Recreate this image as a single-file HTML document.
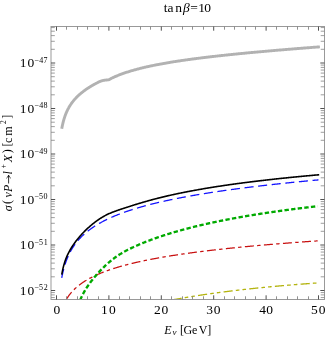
<!DOCTYPE html>
<html><head><meta charset="utf-8"><title>plot</title>
<style>html,body{margin:0;padding:0;background:#fff;}body{width:327px;height:337px;overflow:hidden;font-family:"Liberation Serif",serif;}</style>
</head><body>
<svg width="327" height="337" viewBox="0 0 327 337" style="display:block">
<rect width="327" height="337" fill="#fff"/>
<defs><clipPath id="c"><rect x="51.0" y="26.5" width="273.5" height="273.0"/></clipPath></defs>
<g clip-path="url(#c)" fill="none">
<path d="M61.74,128.74 L61.93,127.74 L62.11,126.80 L62.30,125.89 L62.49,125.03 L62.68,124.20 L62.86,123.40 L63.05,122.63 L63.24,121.90 L63.43,121.19 L63.61,120.50 L63.80,119.84 L63.99,119.20 L64.17,118.59 L64.36,117.99 L64.55,117.41 L64.74,116.85 L64.92,116.30 L65.11,115.77 L65.30,115.26 L65.48,114.76 L65.67,114.27 L65.86,113.79 L66.05,113.33 L66.23,112.88 L66.42,112.44 L66.61,112.01 L66.80,111.59 L66.98,111.18 L67.17,110.77 L67.36,110.38 L67.54,110.00 L67.73,109.62 L67.92,109.25 L68.11,108.89 L68.29,108.53 L68.48,108.19 L68.67,107.85 L68.85,107.51 L69.04,107.18 L69.23,106.86 L69.42,106.54 L69.60,106.23 L69.79,105.93 L69.98,105.62 L70.17,105.33 L70.35,105.04 L70.54,104.75 L70.73,104.47 L70.91,104.19 L71.10,103.92 L71.29,103.65 L71.48,103.38 L71.66,103.12 L71.85,102.86 L72.04,102.61 L72.23,102.35 L72.41,102.11 L72.60,101.86 L72.79,101.62 L72.97,101.38 L73.16,101.15 L73.35,100.91 L73.54,100.69 L73.72,100.46 L73.91,100.24 L74.10,100.01 L74.28,99.80 L74.47,99.58 L74.66,99.37 L74.85,99.16 L75.03,98.95 L75.22,98.74 L75.41,98.54 L75.60,98.33 L75.78,98.13 L75.97,97.94 L76.16,97.74 L76.34,97.55 L76.53,97.35 L76.72,97.16 L76.91,96.98 L77.09,96.79 L77.28,96.60 L77.47,96.42 L77.66,96.24 L77.84,96.06 L78.03,95.88 L78.22,95.71 L78.40,95.53 L78.59,95.36 L78.78,95.19 L78.97,95.02 L79.15,94.85 L79.34,94.68 L79.53,94.52 L79.71,94.35 L79.90,94.19 L80.09,94.03 L80.28,93.87 L80.46,93.71 L80.65,93.55 L80.84,93.39 L81.03,93.24 L81.21,93.08 L81.40,92.93 L81.59,92.78 L81.77,92.62 L81.96,92.47 L82.15,92.33 L82.34,92.18 L82.52,92.03 L82.71,91.89 L82.90,91.74 L83.08,91.60 L83.27,91.45 L83.46,91.31 L83.65,91.17 L83.83,91.03 L84.02,90.89 L84.21,90.75 L84.40,90.62 L84.58,90.48 L84.77,90.35 L84.96,90.21 L85.14,90.08 L85.33,89.94 L85.52,89.81 L85.71,89.68 L85.89,89.55 L86.08,89.42 L86.27,89.29 L86.46,89.16 L86.64,89.03 L86.83,88.91 L87.02,88.78 L87.20,88.66 L87.39,88.53 L87.58,88.41 L87.77,88.28 L87.95,88.16 L88.14,88.04 L88.33,87.92 L88.51,87.80 L88.70,87.68 L88.89,87.56 L89.08,87.44 L89.26,87.32 L89.45,87.20 L89.64,87.09 L89.83,86.97 L90.01,86.85 L90.20,86.74 L90.39,86.62 L90.57,86.51 L90.76,86.40 L90.95,86.28 L91.14,86.17 L91.32,86.06 L91.51,85.95 L91.70,85.84 L91.89,85.73 L92.07,85.62 L92.26,85.51 L92.45,85.40 L92.63,85.29 L92.82,85.18 L93.01,85.07 L93.20,84.97 L93.38,84.86 L93.57,84.75 L93.76,84.65 L93.94,84.54 L94.13,84.44 L94.32,84.33 L94.51,84.23 L94.69,84.13 L94.88,84.02 L95.07,83.92 L95.26,83.82 L95.44,83.72 L95.63,83.62 L95.82,83.52 L96.00,83.42 L96.19,83.31 L96.38,83.22 L96.57,83.12 L96.75,83.02 L96.94,82.92 L97.13,82.82 L97.31,82.72 L97.50,82.63 L97.69,82.53 L97.88,82.43 L98.06,82.34 L98.25,82.24 L98.44,82.14 L98.63,82.05 L98.81,81.95 L99.00,81.86 L99.16,81.79 L99.32,81.73 L99.47,81.66 L99.63,81.60 L99.79,81.53 L99.95,81.47 L100.11,81.41 L100.27,81.35 L100.42,81.29 L100.58,81.23 L100.74,81.17 L100.90,81.11 L101.06,81.06 L101.22,81.00 L101.37,80.95 L101.53,80.89 L101.69,80.84 L101.85,80.79 L102.01,80.75 L102.16,80.70 L102.32,80.66 L102.48,80.62 L102.64,80.58 L102.80,80.54 L102.96,80.50 L103.11,80.47 L103.27,80.44 L103.43,80.41 L103.59,80.38 L103.75,80.35 L103.91,80.32 L104.06,80.29 L104.22,80.27 L104.38,80.24 L104.54,80.22 L104.70,80.20 L104.85,80.18 L105.01,80.15 L105.17,80.13 L105.33,80.11 L105.49,80.09 L105.65,80.07 L105.80,80.06 L105.96,80.04 L106.12,80.02 L106.28,80.00 L106.44,79.99 L106.59,79.97 L106.75,79.96 L106.91,79.95 L107.07,79.94 L107.23,79.93 L107.39,79.92 L107.54,79.90 L107.70,79.89 L107.86,79.88 L108.02,79.87 L108.18,79.85 L108.34,79.83 L108.49,79.81 L108.65,79.79 L108.81,79.76 L108.97,79.71 L109.13,79.66 L109.28,79.59 L109.44,79.52 L109.60,79.43 L109.76,79.34 L109.92,79.25 L110.08,79.15 L110.23,79.05 L110.39,78.95 L110.55,78.85 L110.71,78.75 L110.87,78.65 L111.03,78.55 L111.18,78.46 L111.34,78.37 L111.50,78.29 L112.20,77.96 L112.89,77.63 L113.59,77.32 L114.29,77.00 L114.98,76.70 L115.68,76.40 L116.38,76.10 L117.08,75.81 L117.77,75.53 L118.47,75.25 L119.17,74.97 L119.86,74.70 L120.56,74.44 L121.26,74.18 L121.95,73.92 L122.65,73.67 L123.35,73.42 L124.05,73.17 L124.74,72.93 L125.44,72.70 L126.14,72.47 L126.83,72.24 L127.53,72.01 L128.23,71.79 L128.92,71.57 L129.62,71.35 L130.32,71.14 L131.02,70.93 L131.71,70.72 L132.41,70.52 L133.11,70.32 L133.80,70.12 L134.50,69.92 L135.20,69.73 L135.89,69.54 L136.59,69.35 L137.29,69.16 L137.99,68.98 L138.68,68.80 L139.38,68.62 L140.08,68.44 L140.77,68.27 L141.47,68.10 L142.17,67.93 L142.86,67.76 L143.56,67.59 L144.26,67.43 L144.96,67.26 L145.65,67.10 L146.35,66.94 L147.05,66.79 L147.74,66.63 L148.44,66.48 L149.14,66.32 L149.83,66.17 L150.53,66.02 L151.23,65.88 L151.93,65.73 L152.62,65.58 L153.32,65.44 L154.02,65.30 L154.71,65.16 L155.41,65.02 L156.11,64.88 L156.80,64.74 L157.50,64.61 L158.20,64.48 L158.90,64.34 L159.59,64.21 L160.29,64.08 L160.99,63.95 L161.68,63.82 L162.38,63.70 L163.08,63.57 L163.77,63.45 L164.47,63.32 L165.17,63.20 L165.87,63.08 L166.56,62.96 L167.26,62.84 L167.96,62.72 L168.65,62.60 L169.35,62.48 L170.05,62.37 L170.74,62.25 L171.44,62.14 L172.14,62.03 L172.84,61.91 L173.53,61.80 L174.23,61.69 L174.93,61.58 L175.62,61.47 L176.32,61.36 L177.02,61.26 L177.71,61.15 L178.41,61.04 L179.11,60.94 L179.81,60.83 L180.50,60.73 L181.20,60.62 L181.90,60.52 L182.59,60.42 L183.29,60.32 L183.99,60.22 L184.68,60.12 L185.38,60.02 L186.08,59.92 L186.77,59.82 L187.47,59.73 L188.17,59.63 L188.87,59.53 L189.56,59.44 L190.26,59.34 L190.96,59.25 L191.65,59.15 L192.35,59.06 L193.05,58.97 L193.74,58.87 L194.44,58.78 L195.14,58.69 L195.84,58.60 L196.53,58.51 L197.23,58.42 L197.93,58.33 L198.62,58.24 L199.32,58.15 L200.02,58.07 L200.71,57.98 L201.41,57.89 L202.11,57.81 L202.81,57.72 L203.50,57.63 L204.20,57.55 L204.90,57.46 L205.59,57.38 L206.29,57.30 L206.99,57.21 L207.68,57.13 L208.38,57.05 L209.08,56.96 L209.78,56.88 L210.47,56.80 L211.17,56.72 L211.87,56.64 L212.56,56.56 L213.26,56.48 L213.96,56.40 L214.65,56.32 L215.35,56.24 L216.05,56.16 L216.75,56.08 L217.44,56.01 L218.14,55.93 L218.84,55.85 L219.53,55.77 L220.23,55.70 L220.93,55.62 L221.62,55.54 L222.32,55.47 L223.02,55.39 L223.72,55.32 L224.41,55.24 L225.11,55.17 L225.81,55.10 L226.50,55.02 L227.20,54.95 L227.90,54.87 L228.59,54.80 L229.29,54.73 L229.99,54.66 L230.69,54.58 L231.38,54.51 L232.08,54.44 L232.78,54.37 L233.47,54.30 L234.17,54.23 L234.87,54.16 L235.56,54.08 L236.26,54.01 L236.96,53.94 L237.66,53.88 L238.35,53.81 L239.05,53.74 L239.75,53.67 L240.44,53.60 L241.14,53.53 L241.84,53.46 L242.53,53.39 L243.23,53.33 L243.93,53.26 L244.63,53.19 L245.32,53.12 L246.02,53.06 L246.72,52.99 L247.41,52.92 L248.11,52.86 L248.81,52.79 L249.50,52.72 L250.20,52.66 L250.90,52.59 L251.59,52.53 L252.29,52.46 L252.99,52.40 L253.69,52.33 L254.38,52.27 L255.08,52.20 L255.78,52.14 L256.47,52.08 L257.17,52.01 L257.87,51.95 L258.56,51.88 L259.26,51.82 L259.96,51.76 L260.66,51.69 L261.35,51.63 L262.05,51.57 L262.75,51.51 L263.44,51.44 L264.14,51.38 L264.84,51.32 L265.53,51.26 L266.23,51.20 L266.93,51.14 L267.63,51.07 L268.32,51.01 L269.02,50.95 L269.72,50.89 L270.41,50.83 L271.11,50.77 L271.81,50.71 L272.50,50.65 L273.20,50.59 L273.90,50.53 L274.60,50.47 L275.29,50.41 L275.99,50.35 L276.69,50.29 L277.38,50.23 L278.08,50.17 L278.78,50.11 L279.47,50.05 L280.17,49.99 L280.87,49.94 L281.57,49.88 L282.26,49.82 L282.96,49.76 L283.66,49.70 L284.35,49.64 L285.05,49.59 L285.75,49.53 L286.44,49.47 L287.14,49.41 L287.84,49.36 L288.54,49.30 L289.23,49.24 L289.93,49.19 L290.63,49.13 L291.32,49.07 L292.02,49.02 L292.72,48.96 L293.41,48.90 L294.11,48.85 L294.81,48.79 L295.51,48.73 L296.20,48.68 L296.90,48.62 L297.60,48.57 L298.29,48.51 L298.99,48.46 L299.69,48.40 L300.38,48.34 L301.08,48.29 L301.78,48.23 L302.48,48.18 L303.17,48.12 L303.87,48.07 L304.57,48.01 L305.26,47.96 L305.96,47.91 L306.66,47.85 L307.35,47.80 L308.05,47.74 L308.75,47.69 L309.45,47.63 L310.14,47.58 L310.84,47.53 L311.54,47.47 L312.23,47.42 L312.93,47.37 L313.63,47.31 L314.32,47.26 L315.02,47.21 L315.72,47.15 L316.42,47.10 L317.11,47.05 L317.81,46.99 L318.51,46.94 L319.20,46.89 L319.90,46.84" stroke="#b2b2b2" stroke-width="2.9" stroke-linecap="butt"/>
<path d="M171.60,300.06 L172.09,299.97 L172.58,299.88 L173.07,299.79 L173.57,299.69 L174.06,299.60 L174.55,299.51 L175.04,299.42 L175.53,299.33 L176.02,299.24 L176.51,299.15 L177.00,299.06 L177.50,298.97 L177.99,298.89 L178.48,298.80 L178.97,298.71 L179.46,298.62 L179.95,298.53 L180.44,298.45 L180.93,298.36 L181.43,298.28 L181.92,298.19 L182.41,298.10 L182.90,298.02 L183.39,297.93 L183.88,297.85 L184.37,297.76 L184.87,297.68 L185.36,297.60 L185.85,297.51 L186.34,297.43 L186.83,297.35 L187.32,297.26 L187.81,297.18 L188.30,297.10 L188.80,297.02 L189.29,296.94 L189.78,296.86 L190.27,296.78 L190.76,296.69 L191.25,296.61 L191.74,296.53 L192.23,296.46 L192.73,296.38 L193.22,296.30 L193.71,296.22 L194.20,296.14 L194.69,296.06 L195.18,295.98 L195.67,295.91 L196.17,295.83 L196.66,295.75 L197.15,295.68 L197.64,295.60 L198.13,295.52 L198.62,295.45 L199.11,295.37 L199.60,295.30 L200.10,295.22 L200.59,295.15 L201.08,295.07 L201.57,295.00 L202.06,294.92 L202.55,294.85 L203.04,294.78 L203.53,294.70 L204.03,294.63 L204.52,294.56 L205.01,294.48 L205.50,294.41 L205.99,294.34 L206.48,294.27 L206.97,294.20 L207.47,294.13 L207.96,294.06 L208.45,293.99 L208.94,293.91 L209.43,293.84 L209.92,293.77 L210.41,293.71 L210.90,293.64 L211.40,293.57 L211.89,293.50 L212.38,293.43 L212.87,293.36 L213.36,293.29 L213.85,293.22 L214.34,293.16 L214.83,293.09 L215.33,293.02 L215.82,292.95 L216.31,292.89 L216.80,292.82 L217.29,292.76 L217.78,292.69 L218.27,292.62 L218.77,292.56 L219.26,292.49 L219.75,292.43 L220.24,292.36 L220.73,292.30 L221.22,292.23 L221.71,292.17 L222.20,292.10 L222.70,292.04 L223.19,291.98 L223.68,291.91 L224.17,291.85 L224.66,291.79 L225.15,291.73 L225.64,291.66 L226.13,291.60 L226.63,291.54 L227.12,291.48 L227.61,291.42 L228.10,291.35 L228.59,291.29 L229.08,291.23 L229.57,291.17 L230.07,291.11 L230.56,291.05 L231.05,290.99 L231.54,290.93 L232.03,290.87 L232.52,290.81 L233.01,290.75 L233.50,290.69 L234.00,290.63 L234.49,290.57 L234.98,290.52 L235.47,290.46 L235.96,290.40 L236.45,290.34 L236.94,290.28 L237.43,290.23 L237.93,290.17 L238.42,290.11 L238.91,290.05 L239.40,290.00 L239.89,289.94 L240.38,289.88 L240.87,289.83 L241.37,289.77 L241.86,289.72 L242.35,289.66 L242.84,289.60 L243.33,289.55 L243.82,289.49 L244.31,289.44 L244.80,289.38 L245.30,289.33 L245.79,289.28 L246.28,289.22 L246.77,289.17 L247.26,289.11 L247.75,289.06 L248.24,289.01 L248.73,288.95 L249.23,288.90 L249.72,288.85 L250.21,288.79 L250.70,288.74 L251.19,288.69 L251.68,288.64 L252.17,288.58 L252.67,288.53 L253.16,288.48 L253.65,288.43 L254.14,288.38 L254.63,288.33 L255.12,288.28 L255.61,288.22 L256.10,288.17 L256.60,288.12 L257.09,288.07 L257.58,288.02 L258.07,287.97 L258.56,287.92 L259.05,287.87 L259.54,287.82 L260.03,287.77 L260.53,287.72 L261.02,287.68 L261.51,287.63 L262.00,287.58 L262.49,287.53 L262.98,287.48 L263.47,287.43 L263.97,287.38 L264.46,287.34 L264.95,287.29 L265.44,287.24 L265.93,287.19 L266.42,287.15 L266.91,287.10 L267.40,287.05 L267.90,287.00 L268.39,286.96 L268.88,286.91 L269.37,286.86 L269.86,286.82 L270.35,286.77 L270.84,286.73 L271.33,286.68 L271.83,286.63 L272.32,286.59 L272.81,286.54 L273.30,286.50 L273.79,286.45 L274.28,286.41 L274.77,286.36 L275.27,286.32 L275.76,286.27 L276.25,286.23 L276.74,286.18 L277.23,286.14 L277.72,286.10 L278.21,286.05 L278.70,286.01 L279.20,285.97 L279.69,285.92 L280.18,285.88 L280.67,285.84 L281.16,285.79 L281.65,285.75 L282.14,285.71 L282.63,285.66 L283.13,285.62 L283.62,285.58 L284.11,285.54 L284.60,285.49 L285.09,285.45 L285.58,285.41 L286.07,285.37 L286.57,285.33 L287.06,285.29 L287.55,285.24 L288.04,285.20 L288.53,285.16 L289.02,285.12 L289.51,285.08 L290.00,285.04 L290.50,285.00 L290.99,284.96 L291.48,284.92 L291.97,284.88 L292.46,284.84 L292.95,284.80 L293.44,284.76 L293.93,284.72 L294.43,284.68 L294.92,284.64 L295.41,284.60 L295.90,284.56 L296.39,284.52 L296.88,284.48 L297.37,284.44 L297.87,284.40 L298.36,284.37 L298.85,284.33 L299.34,284.29 L299.83,284.25 L300.32,284.21 L300.81,284.17 L301.30,284.14 L301.80,284.10 L302.29,284.06 L302.78,284.02 L303.27,283.99 L303.76,283.95 L304.25,283.91 L304.74,283.87 L305.23,283.84 L305.73,283.80 L306.22,283.76 L306.71,283.73 L307.20,283.69 L307.69,283.65 L308.18,283.62 L308.67,283.58 L309.17,283.54 L309.66,283.51 L310.15,283.47 L310.64,283.44 L311.13,283.40 L311.62,283.36 L312.11,283.33 L312.60,283.29 L313.10,283.26 L313.59,283.22 L314.08,283.19 L314.57,283.15 L315.06,283.12 L315.55,283.08 L316.04,283.05 L316.53,283.01 L317.03,282.98 L317.52,282.95 L318.01,282.91 L318.50,282.88" stroke="#b4b410" stroke-width="1.3" stroke-linecap="butt" stroke-dasharray="9.2 3.1 3.6 3.1 3.6 3.2" stroke-dashoffset="24.78"/>
<path d="M66.30,299.41 L66.81,298.58 L67.31,297.79 L67.82,297.03 L68.32,296.30 L68.83,295.60 L69.33,294.93 L69.84,294.27 L70.34,293.64 L70.85,293.04 L71.35,292.45 L71.86,291.87 L72.36,291.32 L72.87,290.78 L73.38,290.26 L73.88,289.75 L74.39,289.25 L74.89,288.77 L75.40,288.30 L75.90,287.84 L76.41,287.39 L76.91,286.96 L77.42,286.53 L77.92,286.11 L78.43,285.70 L78.94,285.30 L79.44,284.91 L79.95,284.53 L80.45,284.15 L80.96,283.78 L81.46,283.42 L81.97,283.06 L82.47,282.72 L82.98,282.37 L83.48,282.04 L83.99,281.71 L84.49,281.39 L85.00,281.07 L85.51,280.75 L86.01,280.45 L86.52,280.14 L87.02,279.84 L87.53,279.55 L88.03,279.26 L88.54,278.98 L89.04,278.70 L89.55,278.42 L90.05,278.15 L90.56,277.88 L91.07,277.62 L91.57,277.35 L92.08,277.10 L92.58,276.84 L93.09,276.59 L93.59,276.35 L94.10,276.10 L94.60,275.86 L95.11,275.62 L95.61,275.39 L96.12,275.16 L96.62,274.93 L97.13,274.70 L97.64,274.48 L98.14,274.26 L98.65,274.04 L99.15,273.82 L99.66,273.61 L100.16,273.40 L100.67,273.19 L101.17,272.99 L101.68,272.78 L102.18,272.58 L102.69,272.38 L103.19,272.18 L103.70,271.99 L104.21,271.79 L104.71,271.60 L105.22,271.41 L105.72,271.23 L106.23,271.04 L106.73,270.86 L107.24,270.67 L107.74,270.49 L108.25,270.31 L108.75,270.14 L109.26,269.96 L109.77,269.79 L110.27,269.62 L110.78,269.45 L111.28,269.28 L111.79,269.11 L112.29,268.94 L112.80,268.78 L113.30,268.62 L113.81,268.46 L114.31,268.30 L114.82,268.14 L115.32,267.98 L115.83,267.82 L116.34,267.67 L116.84,267.52 L117.35,267.36 L117.85,267.21 L118.36,267.06 L118.86,266.91 L119.37,266.77 L119.87,266.62 L120.38,266.47 L120.88,266.33 L121.39,266.19 L121.90,266.05 L122.40,265.91 L122.91,265.77 L123.41,265.63 L123.92,265.49 L124.42,265.35 L124.93,265.22 L125.43,265.08 L125.94,264.95 L126.44,264.82 L126.95,264.69 L127.45,264.55 L127.96,264.43 L128.47,264.30 L128.97,264.17 L129.48,264.04 L129.98,263.91 L130.49,263.79 L130.99,263.66 L131.50,263.54 L132.00,263.42 L132.51,263.30 L133.01,263.17 L133.52,263.05 L134.03,262.93 L134.53,262.82 L135.04,262.70 L135.54,262.58 L136.05,262.46 L136.55,262.35 L137.06,262.23 L137.56,262.12 L138.07,262.00 L138.57,261.89 L139.08,261.78 L139.58,261.67 L140.09,261.56 L140.60,261.45 L141.10,261.34 L141.61,261.23 L142.11,261.12 L142.62,261.01 L143.12,260.90 L143.63,260.80 L144.13,260.69 L144.64,260.59 L145.14,260.48 L145.65,260.38 L146.15,260.27 L146.66,260.17 L147.17,260.07 L147.67,259.97 L148.18,259.87 L148.68,259.77 L149.19,259.67 L149.69,259.57 L150.20,259.47 L150.70,259.37 L151.21,259.27 L151.71,259.17 L152.22,259.08 L152.73,258.98 L153.23,258.88 L153.74,258.79 L154.24,258.69 L154.75,258.60 L155.25,258.51 L155.76,258.41 L156.26,258.32 L156.77,258.23 L157.27,258.13 L157.78,258.04 L158.28,257.95 L158.79,257.86 L159.30,257.77 L159.80,257.68 L160.31,257.59 L160.81,257.50 L161.32,257.42 L161.82,257.33 L162.33,257.24 L162.83,257.15 L163.34,257.07 L163.84,256.98 L164.35,256.89 L164.86,256.81 L165.36,256.72 L165.87,256.64 L166.37,256.55 L166.88,256.47 L167.38,256.39 L167.89,256.30 L168.39,256.22 L168.90,256.14 L169.40,256.06 L169.91,255.97 L170.41,255.89 L170.92,255.81 L171.43,255.73 L171.93,255.65 L172.44,255.57 L172.94,255.49 L173.45,255.41 L173.95,255.33 L174.46,255.26 L174.96,255.18 L175.47,255.10 L175.97,255.02 L176.48,254.95 L176.98,254.87 L177.49,254.79 L178.00,254.72 L178.50,254.64 L179.01,254.57 L179.51,254.49 L180.02,254.42 L180.52,254.34 L181.03,254.27 L181.53,254.19 L182.04,254.12 L182.54,254.05 L183.05,253.97 L183.56,253.90 L184.06,253.83 L184.57,253.76 L185.07,253.68 L185.58,253.61 L186.08,253.54 L186.59,253.47 L187.09,253.40 L187.60,253.33 L188.10,253.26 L188.61,253.19 L189.11,253.12 L189.62,253.05 L190.13,252.98 L190.63,252.91 L191.14,252.84 L191.64,252.77 L192.15,252.71 L192.65,252.64 L193.16,252.57 L193.66,252.50 L194.17,252.44 L194.67,252.37 L195.18,252.30 L195.69,252.24 L196.19,252.17 L196.70,252.11 L197.20,252.04 L197.71,251.97 L198.21,251.91 L198.72,251.84 L199.22,251.78 L199.73,251.72 L200.23,251.65 L200.74,251.59 L201.24,251.52 L201.75,251.46 L202.26,251.40 L202.76,251.33 L203.27,251.27 L203.77,251.21 L204.28,251.15 L204.78,251.08 L205.29,251.02 L205.79,250.96 L206.30,250.90 L206.80,250.84 L207.31,250.78 L207.82,250.72 L208.32,250.66 L208.83,250.60 L209.33,250.54 L209.84,250.48 L210.34,250.42 L210.85,250.36 L211.35,250.30 L211.86,250.24 L212.36,250.18 L212.87,250.12 L213.37,250.06 L213.88,250.00 L214.39,249.94 L214.89,249.89 L215.40,249.83 L215.90,249.77 L216.41,249.71 L216.91,249.66 L217.42,249.60 L217.92,249.54 L218.43,249.49 L218.93,249.43 L219.44,249.37 L219.94,249.32 L220.45,249.26 L220.96,249.20 L221.46,249.15 L221.97,249.09 L222.47,249.04 L222.98,248.98 L223.48,248.93 L223.99,248.87 L224.49,248.82 L225.00,248.76 L225.50,248.71 L226.01,248.66 L226.52,248.60 L227.02,248.55 L227.53,248.49 L228.03,248.44 L228.54,248.39 L229.04,248.33 L229.55,248.28 L230.05,248.23 L230.56,248.18 L231.06,248.12 L231.57,248.07 L232.07,248.02 L232.58,247.97 L233.09,247.91 L233.59,247.86 L234.10,247.81 L234.60,247.76 L235.11,247.71 L235.61,247.66 L236.12,247.61 L236.62,247.56 L237.13,247.50 L237.63,247.45 L238.14,247.40 L238.65,247.35 L239.15,247.30 L239.66,247.25 L240.16,247.20 L240.67,247.15 L241.17,247.10 L241.68,247.05 L242.18,247.01 L242.69,246.96 L243.19,246.91 L243.70,246.86 L244.20,246.81 L244.71,246.76 L245.22,246.71 L245.72,246.66 L246.23,246.62 L246.73,246.57 L247.24,246.52 L247.74,246.47 L248.25,246.43 L248.75,246.38 L249.26,246.33 L249.76,246.28 L250.27,246.24 L250.77,246.19 L251.28,246.14 L251.79,246.10 L252.29,246.05 L252.80,246.00 L253.30,245.96 L253.81,245.91 L254.31,245.86 L254.82,245.82 L255.32,245.77 L255.83,245.73 L256.33,245.68 L256.84,245.63 L257.35,245.59 L257.85,245.54 L258.36,245.50 L258.86,245.45 L259.37,245.41 L259.87,245.36 L260.38,245.32 L260.88,245.27 L261.39,245.23 L261.89,245.19 L262.40,245.14 L262.90,245.10 L263.41,245.05 L263.92,245.01 L264.42,244.97 L264.93,244.92 L265.43,244.88 L265.94,244.83 L266.44,244.79 L266.95,244.75 L267.45,244.70 L267.96,244.66 L268.46,244.62 L268.97,244.58 L269.48,244.53 L269.98,244.49 L270.49,244.45 L270.99,244.41 L271.50,244.36 L272.00,244.32 L272.51,244.28 L273.01,244.24 L273.52,244.19 L274.02,244.15 L274.53,244.11 L275.03,244.07 L275.54,244.03 L276.05,243.99 L276.55,243.95 L277.06,243.90 L277.56,243.86 L278.07,243.82 L278.57,243.78 L279.08,243.74 L279.58,243.70 L280.09,243.66 L280.59,243.62 L281.10,243.58 L281.61,243.54 L282.11,243.50 L282.62,243.46 L283.12,243.42 L283.63,243.38 L284.13,243.34 L284.64,243.30 L285.14,243.26 L285.65,243.22 L286.15,243.18 L286.66,243.14 L287.16,243.10 L287.67,243.06 L288.18,243.02 L288.68,242.98 L289.19,242.94 L289.69,242.91 L290.20,242.87 L290.70,242.83 L291.21,242.79 L291.71,242.75 L292.22,242.71 L292.72,242.67 L293.23,242.64 L293.73,242.60 L294.24,242.56 L294.75,242.52 L295.25,242.48 L295.76,242.45 L296.26,242.41 L296.77,242.37 L297.27,242.33 L297.78,242.29 L298.28,242.26 L298.79,242.22 L299.29,242.18 L299.80,242.15 L300.31,242.11 L300.81,242.07 L301.32,242.03 L301.82,242.00 L302.33,241.96 L302.83,241.92 L303.34,241.89 L303.84,241.85 L304.35,241.81 L304.85,241.78 L305.36,241.74 L305.86,241.71 L306.37,241.67 L306.88,241.63 L307.38,241.60 L307.89,241.56 L308.39,241.53 L308.90,241.49 L309.40,241.45 L309.91,241.42 L310.41,241.38 L310.92,241.35 L311.42,241.31 L311.93,241.28 L312.44,241.24 L312.94,241.21 L313.45,241.17 L313.95,241.14 L314.46,241.10 L314.96,241.07 L315.47,241.03 L315.97,241.00 L316.48,240.96 L316.98,240.93 L317.49,240.89 L317.99,240.86 L318.50,240.82" stroke="#c81010" stroke-width="1.25" stroke-linecap="butt" stroke-dasharray="9 3.3 3.4 3.4" stroke-dashoffset="19.03"/>
<path d="M80.35,299.62 L80.83,298.54 L81.30,297.50 L81.78,296.49 L82.25,295.51 L82.73,294.57 L83.20,293.66 L83.68,292.78 L84.15,291.92 L84.63,291.08 L85.10,290.27 L85.58,289.48 L86.06,288.71 L86.53,287.95 L87.01,287.22 L87.48,286.50 L87.96,285.79 L88.43,285.10 L88.91,284.42 L89.38,283.75 L89.86,283.10 L90.33,282.45 L90.81,281.82 L91.29,281.19 L91.76,280.58 L92.24,279.97 L92.71,279.37 L93.19,278.77 L93.66,278.19 L94.14,277.61 L94.61,277.04 L95.09,276.48 L95.56,275.92 L96.04,275.37 L96.52,274.82 L96.99,274.28 L97.47,273.75 L97.94,273.22 L98.42,272.70 L98.89,272.19 L99.37,271.68 L99.84,271.17 L100.32,270.67 L100.79,270.17 L101.27,269.68 L101.75,269.20 L102.22,268.71 L102.70,268.24 L103.17,267.76 L103.65,267.29 L104.12,266.83 L104.60,266.37 L105.07,265.92 L105.55,265.47 L106.02,265.02 L106.50,264.58 L106.98,264.15 L107.45,263.72 L107.93,263.29 L108.40,262.87 L108.88,262.46 L109.35,262.05 L109.83,261.65 L110.30,261.25 L110.78,260.85 L111.25,260.46 L111.73,260.08 L112.21,259.70 L112.68,259.33 L113.16,258.96 L113.63,258.59 L114.11,258.23 L114.58,257.88 L115.06,257.53 L115.53,257.19 L116.01,256.85 L116.48,256.51 L116.96,256.18 L117.44,255.86 L117.91,255.54 L118.39,255.23 L118.86,254.92 L119.34,254.61 L119.81,254.31 L120.29,254.02 L120.76,253.72 L121.24,253.44 L121.71,253.15 L122.19,252.87 L122.67,252.60 L123.14,252.32 L123.62,252.05 L124.09,251.79 L124.57,251.52 L125.04,251.26 L125.52,251.01 L125.99,250.75 L126.47,250.50 L126.94,250.25 L127.42,250.01 L127.90,249.76 L128.37,249.52 L128.85,249.28 L129.32,249.05 L129.80,248.81 L130.27,248.58 L130.75,248.35 L131.22,248.12 L131.70,247.90 L132.17,247.67 L132.65,247.45 L133.13,247.23 L133.60,247.01 L134.08,246.79 L134.55,246.58 L135.03,246.36 L135.50,246.15 L135.98,245.94 L136.45,245.73 L136.93,245.52 L137.40,245.31 L137.88,245.10 L138.36,244.90 L138.83,244.69 L139.31,244.49 L139.78,244.29 L140.26,244.09 L140.73,243.89 L141.21,243.69 L141.68,243.49 L142.16,243.30 L142.63,243.10 L143.11,242.91 L143.58,242.72 L144.06,242.52 L144.54,242.33 L145.01,242.14 L145.49,241.95 L145.96,241.77 L146.44,241.58 L146.91,241.39 L147.39,241.21 L147.86,241.03 L148.34,240.84 L148.81,240.66 L149.29,240.48 L149.77,240.30 L150.24,240.12 L150.72,239.94 L151.19,239.77 L151.67,239.59 L152.14,239.42 L152.62,239.24 L153.09,239.07 L153.57,238.90 L154.04,238.72 L154.52,238.55 L155.00,238.38 L155.47,238.22 L155.95,238.05 L156.42,237.88 L156.90,237.71 L157.37,237.55 L157.85,237.38 L158.32,237.22 L158.80,237.06 L159.27,236.89 L159.75,236.73 L160.23,236.57 L160.70,236.41 L161.18,236.25 L161.65,236.09 L162.13,235.94 L162.60,235.78 L163.08,235.62 L163.55,235.47 L164.03,235.31 L164.50,235.16 L164.98,235.01 L165.46,234.85 L165.93,234.70 L166.41,234.55 L166.88,234.40 L167.36,234.25 L167.83,234.10 L168.31,233.95 L168.78,233.80 L169.26,233.66 L169.73,233.51 L170.21,233.37 L170.69,233.22 L171.16,233.08 L171.64,232.93 L172.11,232.79 L172.59,232.65 L173.06,232.50 L173.54,232.36 L174.01,232.22 L174.49,232.08 L174.96,231.94 L175.44,231.80 L175.92,231.67 L176.39,231.53 L176.87,231.39 L177.34,231.26 L177.82,231.12 L178.29,230.99 L178.77,230.85 L179.24,230.72 L179.72,230.58 L180.19,230.45 L180.67,230.32 L181.15,230.19 L181.62,230.05 L182.10,229.92 L182.57,229.79 L183.05,229.66 L183.52,229.54 L184.00,229.41 L184.47,229.28 L184.95,229.15 L185.42,229.02 L185.90,228.90 L186.38,228.77 L186.85,228.65 L187.33,228.52 L187.80,228.40 L188.28,228.27 L188.75,228.15 L189.23,228.03 L189.70,227.91 L190.18,227.78 L190.65,227.66 L191.13,227.54 L191.61,227.42 L192.08,227.30 L192.56,227.18 L193.03,227.06 L193.51,226.94 L193.98,226.83 L194.46,226.71 L194.93,226.59 L195.41,226.47 L195.88,226.36 L196.36,226.24 L196.84,226.13 L197.31,226.01 L197.79,225.90 L198.26,225.78 L198.74,225.67 L199.21,225.56 L199.69,225.44 L200.16,225.33 L200.64,225.22 L201.11,225.11 L201.59,225.00 L202.07,224.89 L202.54,224.78 L203.02,224.67 L203.49,224.56 L203.97,224.45 L204.44,224.34 L204.92,224.23 L205.39,224.12 L205.87,224.01 L206.34,223.91 L206.82,223.80 L207.30,223.69 L207.77,223.59 L208.25,223.48 L208.72,223.38 L209.20,223.27 L209.67,223.17 L210.15,223.06 L210.62,222.96 L211.10,222.86 L211.57,222.75 L212.05,222.65 L212.53,222.55 L213.00,222.45 L213.48,222.35 L213.95,222.25 L214.43,222.15 L214.90,222.04 L215.38,221.94 L215.85,221.84 L216.33,221.75 L216.80,221.65 L217.28,221.55 L217.76,221.45 L218.23,221.35 L218.71,221.25 L219.18,221.16 L219.66,221.06 L220.13,220.96 L220.61,220.87 L221.08,220.77 L221.56,220.67 L222.03,220.58 L222.51,220.48 L222.99,220.39 L223.46,220.30 L223.94,220.20 L224.41,220.11 L224.89,220.01 L225.36,219.92 L225.84,219.83 L226.31,219.74 L226.79,219.64 L227.26,219.55 L227.74,219.46 L228.22,219.37 L228.69,219.28 L229.17,219.19 L229.64,219.10 L230.12,219.01 L230.59,218.92 L231.07,218.83 L231.54,218.74 L232.02,218.65 L232.49,218.56 L232.97,218.47 L233.45,218.38 L233.92,218.30 L234.40,218.21 L234.87,218.12 L235.35,218.03 L235.82,217.95 L236.30,217.86 L236.77,217.77 L237.25,217.69 L237.72,217.60 L238.20,217.52 L238.68,217.43 L239.15,217.35 L239.63,217.26 L240.10,217.18 L240.58,217.09 L241.05,217.01 L241.53,216.93 L242.00,216.84 L242.48,216.76 L242.95,216.68 L243.43,216.60 L243.91,216.51 L244.38,216.43 L244.86,216.35 L245.33,216.27 L245.81,216.19 L246.28,216.11 L246.76,216.02 L247.23,215.94 L247.71,215.86 L248.18,215.78 L248.66,215.70 L249.14,215.62 L249.61,215.55 L250.09,215.47 L250.56,215.39 L251.04,215.31 L251.51,215.23 L251.99,215.15 L252.46,215.07 L252.94,215.00 L253.41,214.92 L253.89,214.84 L254.37,214.76 L254.84,214.69 L255.32,214.61 L255.79,214.54 L256.27,214.46 L256.74,214.38 L257.22,214.31 L257.69,214.23 L258.17,214.16 L258.64,214.08 L259.12,214.01 L259.59,213.93 L260.07,213.86 L260.55,213.78 L261.02,213.71 L261.50,213.64 L261.97,213.56 L262.45,213.49 L262.92,213.42 L263.40,213.34 L263.87,213.27 L264.35,213.20 L264.82,213.13 L265.30,213.05 L265.78,212.98 L266.25,212.91 L266.73,212.84 L267.20,212.77 L267.68,212.70 L268.15,212.63 L268.63,212.56 L269.10,212.49 L269.58,212.42 L270.05,212.35 L270.53,212.28 L271.01,212.21 L271.48,212.14 L271.96,212.07 L272.43,212.00 L272.91,211.93 L273.38,211.86 L273.86,211.79 L274.33,211.72 L274.81,211.66 L275.28,211.59 L275.76,211.52 L276.24,211.45 L276.71,211.38 L277.19,211.32 L277.66,211.25 L278.14,211.18 L278.61,211.12 L279.09,211.05 L279.56,210.98 L280.04,210.92 L280.51,210.85 L280.99,210.79 L281.47,210.72 L281.94,210.65 L282.42,210.59 L282.89,210.52 L283.37,210.46 L283.84,210.39 L284.32,210.33 L284.79,210.27 L285.27,210.20 L285.74,210.14 L286.22,210.07 L286.70,210.01 L287.17,209.95 L287.65,209.88 L288.12,209.82 L288.60,209.76 L289.07,209.69 L289.55,209.63 L290.02,209.57 L290.50,209.51 L290.97,209.44 L291.45,209.38 L291.93,209.32 L292.40,209.26 L292.88,209.20 L293.35,209.13 L293.83,209.07 L294.30,209.01 L294.78,208.95 L295.25,208.89 L295.73,208.83 L296.20,208.77 L296.68,208.71 L297.16,208.65 L297.63,208.59 L298.11,208.53 L298.58,208.47 L299.06,208.41 L299.53,208.35 L300.01,208.29 L300.48,208.23 L300.96,208.17 L301.43,208.11 L301.91,208.05 L302.39,208.00 L302.86,207.94 L303.34,207.88 L303.81,207.82 L304.29,207.76 L304.76,207.71 L305.24,207.65 L305.71,207.59 L306.19,207.53 L306.66,207.48 L307.14,207.42 L307.62,207.36 L308.09,207.30 L308.57,207.25 L309.04,207.19 L309.52,207.13 L309.99,207.08 L310.47,207.02 L310.94,206.97 L311.42,206.91 L311.89,206.85 L312.37,206.80 L312.85,206.74 L313.32,206.69 L313.80,206.63 L314.27,206.58 L314.75,206.52 L315.22,206.47 L315.70,206.41 L316.17,206.36 L316.65,206.30 L317.12,206.25 L317.60,206.20" stroke="#00aa00" stroke-width="2.35" stroke-linecap="butt" stroke-dasharray="4.37 2.283" stroke-dashoffset="0.54"/>
<path d="M61.74,277.86 L62.25,275.25 L62.77,272.89 L63.28,270.72 L63.80,268.73 L64.31,266.88 L64.83,265.16 L65.34,263.55 L65.86,262.04 L66.37,260.62 L66.89,259.27 L67.40,257.99 L67.91,256.78 L68.43,255.62 L68.94,254.52 L69.46,253.46 L69.97,252.45 L70.49,251.48 L71.00,250.54 L71.52,249.64 L72.03,248.78 L72.55,247.94 L73.06,247.13 L73.57,246.35 L74.09,245.59 L74.60,244.85 L75.12,244.14 L75.63,243.45 L76.15,242.77 L76.66,242.12 L77.18,241.48 L77.69,240.86 L78.21,240.25 L78.72,239.66 L79.23,239.09 L79.75,238.52 L80.26,237.98 L80.78,237.44 L81.29,236.91 L81.81,236.40 L82.32,235.90 L82.84,235.40 L83.35,234.92 L83.87,234.45 L84.38,233.98 L84.89,233.53 L85.41,233.08 L85.92,232.65 L86.44,232.22 L86.95,231.79 L87.47,231.38 L87.98,230.97 L88.50,230.57 L89.01,230.18 L89.53,229.79 L90.04,229.41 L90.55,229.03 L91.07,228.66 L91.58,228.30 L92.10,227.94 L92.61,227.59 L93.13,227.24 L93.64,226.89 L94.16,226.56 L94.67,226.22 L95.19,225.90 L95.70,225.57 L96.21,225.25 L96.73,224.94 L97.24,224.63 L97.76,224.32 L98.27,224.02 L98.79,223.72 L99.30,223.42 L99.82,223.13 L100.33,222.84 L100.85,222.56 L101.36,222.27 L101.87,222.00 L102.39,221.72 L102.90,221.45 L103.42,221.18 L103.93,220.92 L104.45,220.65 L104.96,220.39 L105.48,220.14 L105.99,219.88 L106.51,219.63 L107.02,219.38 L107.53,219.14 L108.05,218.89 L108.56,218.65 L109.08,218.41 L109.59,218.18 L110.11,217.94 L110.62,217.71 L111.14,217.48 L111.65,217.26 L112.17,217.03 L112.68,216.81 L113.19,216.59 L113.71,216.37 L114.22,216.15 L114.74,215.94 L115.25,215.72 L115.77,215.51 L116.28,215.30 L116.80,215.10 L117.31,214.89 L117.83,214.69 L118.34,214.49 L118.85,214.29 L119.37,214.09 L119.88,213.89 L120.40,213.70 L120.91,213.50 L121.43,213.31 L121.94,213.12 L122.46,212.93 L122.97,212.74 L123.49,212.56 L124.00,212.37 L124.51,212.19 L125.03,212.01 L125.54,211.83 L126.06,211.65 L126.57,211.47 L127.09,211.30 L127.60,211.12 L128.12,210.95 L128.63,210.78 L129.15,210.60 L129.66,210.43 L130.18,210.27 L130.69,210.10 L131.20,209.93 L131.72,209.77 L132.23,209.60 L132.75,209.44 L133.26,209.28 L133.78,209.12 L134.29,208.96 L134.81,208.80 L135.32,208.64 L135.84,208.49 L136.35,208.33 L136.86,208.18 L137.38,208.02 L137.89,207.87 L138.41,207.72 L138.92,207.57 L139.44,207.42 L139.95,207.27 L140.47,207.13 L140.98,206.98 L141.50,206.83 L142.01,206.69 L142.52,206.54 L143.04,206.40 L143.55,206.26 L144.07,206.12 L144.58,205.98 L145.10,205.84 L145.61,205.70 L146.13,205.56 L146.64,205.42 L147.16,205.29 L147.67,205.15 L148.18,205.02 L148.70,204.88 L149.21,204.75 L149.73,204.62 L150.24,204.48 L150.76,204.35 L151.27,204.22 L151.79,204.09 L152.30,203.96 L152.82,203.84 L153.33,203.71 L153.84,203.58 L154.36,203.46 L154.87,203.33 L155.39,203.20 L155.90,203.08 L156.42,202.96 L156.93,202.83 L157.45,202.71 L157.96,202.59 L158.48,202.47 L158.99,202.35 L159.50,202.23 L160.02,202.11 L160.53,201.99 L161.05,201.87 L161.56,201.75 L162.08,201.64 L162.59,201.52 L163.11,201.41 L163.62,201.29 L164.14,201.18 L164.65,201.06 L165.16,200.95 L165.68,200.84 L166.19,200.72 L166.71,200.61 L167.22,200.50 L167.74,200.39 L168.25,200.28 L168.77,200.17 L169.28,200.06 L169.80,199.95 L170.31,199.84 L170.82,199.73 L171.34,199.63 L171.85,199.52 L172.37,199.41 L172.88,199.31 L173.40,199.20 L173.91,199.10 L174.43,198.99 L174.94,198.89 L175.46,198.78 L175.97,198.68 L176.48,198.58 L177.00,198.48 L177.51,198.37 L178.03,198.27 L178.54,198.17 L179.06,198.07 L179.57,197.97 L180.09,197.87 L180.60,197.77 L181.12,197.67 L181.63,197.57 L182.14,197.48 L182.66,197.38 L183.17,197.28 L183.69,197.18 L184.20,197.09 L184.72,196.99 L185.23,196.90 L185.75,196.80 L186.26,196.71 L186.78,196.61 L187.29,196.52 L187.80,196.42 L188.32,196.33 L188.83,196.24 L189.35,196.14 L189.86,196.05 L190.38,195.96 L190.89,195.87 L191.41,195.78 L191.92,195.69 L192.44,195.60 L192.95,195.50 L193.46,195.42 L193.98,195.33 L194.49,195.24 L195.01,195.15 L195.52,195.06 L196.04,194.97 L196.55,194.88 L197.07,194.79 L197.58,194.71 L198.10,194.62 L198.61,194.53 L199.12,194.45 L199.64,194.36 L200.15,194.28 L200.67,194.19 L201.18,194.10 L201.70,194.02 L202.21,193.94 L202.73,193.85 L203.24,193.77 L203.76,193.68 L204.27,193.60 L204.78,193.52 L205.30,193.43 L205.81,193.35 L206.33,193.27 L206.84,193.19 L207.36,193.11 L207.87,193.02 L208.39,192.94 L208.90,192.86 L209.42,192.78 L209.93,192.70 L210.44,192.62 L210.96,192.54 L211.47,192.46 L211.99,192.38 L212.50,192.30 L213.02,192.23 L213.53,192.15 L214.05,192.07 L214.56,191.99 L215.08,191.91 L215.59,191.84 L216.10,191.76 L216.62,191.68 L217.13,191.61 L217.65,191.53 L218.16,191.45 L218.68,191.38 L219.19,191.30 L219.71,191.23 L220.22,191.15 L220.74,191.08 L221.25,191.00 L221.76,190.93 L222.28,190.85 L222.79,190.78 L223.31,190.70 L223.82,190.63 L224.34,190.56 L224.85,190.48 L225.37,190.41 L225.88,190.34 L226.40,190.27 L226.91,190.19 L227.42,190.12 L227.94,190.05 L228.45,189.98 L228.97,189.91 L229.48,189.83 L230.00,189.76 L230.51,189.69 L231.03,189.62 L231.54,189.55 L232.06,189.48 L232.57,189.41 L233.08,189.34 L233.60,189.27 L234.11,189.20 L234.63,189.13 L235.14,189.06 L235.66,189.00 L236.17,188.93 L236.69,188.86 L237.20,188.79 L237.72,188.72 L238.23,188.65 L238.74,188.59 L239.26,188.52 L239.77,188.45 L240.29,188.39 L240.80,188.32 L241.32,188.25 L241.83,188.19 L242.35,188.12 L242.86,188.05 L243.38,187.99 L243.89,187.92 L244.40,187.86 L244.92,187.79 L245.43,187.72 L245.95,187.66 L246.46,187.59 L246.98,187.53 L247.49,187.47 L248.01,187.40 L248.52,187.34 L249.04,187.27 L249.55,187.21 L250.06,187.14 L250.58,187.08 L251.09,187.02 L251.61,186.95 L252.12,186.89 L252.64,186.83 L253.15,186.77 L253.67,186.70 L254.18,186.64 L254.70,186.58 L255.21,186.52 L255.73,186.45 L256.24,186.39 L256.75,186.33 L257.27,186.27 L257.78,186.21 L258.30,186.15 L258.81,186.09 L259.33,186.03 L259.84,185.97 L260.36,185.90 L260.87,185.84 L261.39,185.78 L261.90,185.72 L262.41,185.66 L262.93,185.60 L263.44,185.54 L263.96,185.49 L264.47,185.43 L264.99,185.37 L265.50,185.31 L266.02,185.25 L266.53,185.19 L267.05,185.13 L267.56,185.07 L268.07,185.01 L268.59,184.96 L269.10,184.90 L269.62,184.84 L270.13,184.78 L270.65,184.72 L271.16,184.67 L271.68,184.61 L272.19,184.55 L272.71,184.50 L273.22,184.44 L273.73,184.38 L274.25,184.33 L274.76,184.27 L275.28,184.21 L275.79,184.16 L276.31,184.10 L276.82,184.04 L277.34,183.99 L277.85,183.93 L278.37,183.88 L278.88,183.82 L279.39,183.77 L279.91,183.71 L280.42,183.65 L280.94,183.60 L281.45,183.54 L281.97,183.49 L282.48,183.44 L283.00,183.38 L283.51,183.33 L284.03,183.27 L284.54,183.22 L285.05,183.16 L285.57,183.11 L286.08,183.06 L286.60,183.00 L287.11,182.95 L287.63,182.90 L288.14,182.84 L288.66,182.79 L289.17,182.74 L289.69,182.68 L290.20,182.63 L290.71,182.58 L291.23,182.52 L291.74,182.47 L292.26,182.42 L292.77,182.37 L293.29,182.31 L293.80,182.26 L294.32,182.21 L294.83,182.16 L295.35,182.11 L295.86,182.06 L296.37,182.00 L296.89,181.95 L297.40,181.90 L297.92,181.85 L298.43,181.80 L298.95,181.75 L299.46,181.70 L299.98,181.65 L300.49,181.60 L301.01,181.54 L301.52,181.49 L302.03,181.44 L302.55,181.39 L303.06,181.34 L303.58,181.29 L304.09,181.24 L304.61,181.19 L305.12,181.14 L305.64,181.09 L306.15,181.04 L306.67,180.99 L307.18,180.95 L307.69,180.90 L308.21,180.85 L308.72,180.80 L309.24,180.75 L309.75,180.70 L310.27,180.65 L310.78,180.60 L311.30,180.55 L311.81,180.51 L312.33,180.46 L312.84,180.41 L313.35,180.36 L313.87,180.31 L314.38,180.26 L314.90,180.22 L315.41,180.17 L315.93,180.12 L316.44,180.07 L316.96,180.03 L317.47,179.98 L317.99,179.93 L318.50,179.88" stroke="#1414ff" stroke-width="1.3" stroke-linecap="butt" stroke-dasharray="9.1 4.585" stroke-dashoffset="0.00"/>
<path d="M61.74,274.56 L62.26,271.78 L62.77,269.34 L63.29,267.17 L63.80,265.21 L64.32,263.44 L64.84,261.81 L65.35,260.30 L65.87,258.90 L66.38,257.59 L66.90,256.36 L67.42,255.19 L67.93,254.09 L68.45,253.03 L68.96,252.02 L69.48,251.05 L70.00,250.12 L70.51,249.23 L71.03,248.36 L71.54,247.52 L72.06,246.70 L72.57,245.91 L73.09,245.13 L73.61,244.38 L74.12,243.64 L74.64,242.92 L75.15,242.22 L75.67,241.53 L76.19,240.85 L76.70,240.19 L77.22,239.53 L77.73,238.89 L78.25,238.26 L78.77,237.64 L79.28,237.02 L79.80,236.42 L80.31,235.83 L80.83,235.25 L81.35,234.68 L81.86,234.11 L82.38,233.56 L82.89,233.01 L83.41,232.47 L83.93,231.94 L84.44,231.42 L84.96,230.90 L85.47,230.39 L85.99,229.89 L86.51,229.40 L87.02,228.92 L87.54,228.44 L88.05,227.96 L88.57,227.50 L89.09,227.04 L89.60,226.59 L90.12,226.14 L90.63,225.70 L91.15,225.26 L91.67,224.83 L92.18,224.41 L92.70,223.99 L93.21,223.57 L93.73,223.17 L94.24,222.76 L94.76,222.37 L95.28,221.97 L95.79,221.59 L96.31,221.20 L96.82,220.83 L97.34,220.46 L97.86,220.09 L98.37,219.73 L98.89,219.38 L99.40,219.03 L99.92,218.69 L100.44,218.36 L100.95,218.03 L101.47,217.71 L101.98,217.39 L102.50,217.08 L103.02,216.78 L103.53,216.48 L104.05,216.19 L104.56,215.90 L105.08,215.62 L105.60,215.35 L106.11,215.08 L106.63,214.82 L107.14,214.57 L107.66,214.32 L108.18,214.07 L108.69,213.83 L109.21,213.60 L109.72,213.38 L110.24,213.15 L110.76,212.93 L111.27,212.72 L111.79,212.51 L112.30,212.30 L112.82,212.10 L113.34,211.90 L113.85,211.71 L114.37,211.51 L114.88,211.32 L115.40,211.13 L115.91,210.95 L116.43,210.76 L116.95,210.58 L117.46,210.40 L117.98,210.22 L118.49,210.04 L119.01,209.87 L119.53,209.69 L120.04,209.52 L120.56,209.35 L121.07,209.18 L121.59,209.01 L122.11,208.84 L122.62,208.67 L123.14,208.50 L123.65,208.33 L124.17,208.16 L124.69,207.99 L125.20,207.83 L125.72,207.66 L126.23,207.49 L126.75,207.33 L127.27,207.16 L127.78,206.99 L128.30,206.83 L128.81,206.66 L129.33,206.49 L129.85,206.33 L130.36,206.16 L130.88,206.00 L131.39,205.84 L131.91,205.67 L132.43,205.51 L132.94,205.35 L133.46,205.18 L133.97,205.02 L134.49,204.86 L135.01,204.70 L135.52,204.54 L136.04,204.38 L136.55,204.22 L137.07,204.06 L137.58,203.91 L138.10,203.75 L138.62,203.59 L139.13,203.44 L139.65,203.28 L140.16,203.13 L140.68,202.97 L141.20,202.82 L141.71,202.66 L142.23,202.51 L142.74,202.36 L143.26,202.21 L143.78,202.06 L144.29,201.91 L144.81,201.76 L145.32,201.61 L145.84,201.46 L146.36,201.32 L146.87,201.17 L147.39,201.03 L147.90,200.88 L148.42,200.74 L148.94,200.59 L149.45,200.45 L149.97,200.31 L150.48,200.17 L151.00,200.03 L151.52,199.89 L152.03,199.75 L152.55,199.61 L153.06,199.47 L153.58,199.33 L154.10,199.20 L154.61,199.06 L155.13,198.93 L155.64,198.79 L156.16,198.66 L156.68,198.53 L157.19,198.39 L157.71,198.26 L158.22,198.13 L158.74,198.00 L159.25,197.87 L159.77,197.74 L160.29,197.62 L160.80,197.49 L161.32,197.36 L161.83,197.24 L162.35,197.11 L162.87,196.99 L163.38,196.86 L163.90,196.74 L164.41,196.62 L164.93,196.49 L165.45,196.37 L165.96,196.25 L166.48,196.13 L166.99,196.01 L167.51,195.89 L168.03,195.77 L168.54,195.65 L169.06,195.54 L169.57,195.42 L170.09,195.30 L170.61,195.19 L171.12,195.07 L171.64,194.96 L172.15,194.84 L172.67,194.73 L173.19,194.62 L173.70,194.50 L174.22,194.39 L174.73,194.28 L175.25,194.17 L175.77,194.06 L176.28,193.95 L176.80,193.84 L177.31,193.73 L177.83,193.62 L178.35,193.51 L178.86,193.41 L179.38,193.30 L179.89,193.19 L180.41,193.09 L180.92,192.98 L181.44,192.87 L181.96,192.77 L182.47,192.67 L182.99,192.56 L183.50,192.46 L184.02,192.36 L184.54,192.25 L185.05,192.15 L185.57,192.05 L186.08,191.95 L186.60,191.85 L187.12,191.75 L187.63,191.65 L188.15,191.55 L188.66,191.45 L189.18,191.35 L189.70,191.25 L190.21,191.15 L190.73,191.06 L191.24,190.96 L191.76,190.86 L192.28,190.77 L192.79,190.67 L193.31,190.58 L193.82,190.48 L194.34,190.39 L194.86,190.29 L195.37,190.20 L195.89,190.10 L196.40,190.01 L196.92,189.92 L197.44,189.83 L197.95,189.73 L198.47,189.64 L198.98,189.55 L199.50,189.46 L200.02,189.37 L200.53,189.28 L201.05,189.19 L201.56,189.10 L202.08,189.01 L202.59,188.92 L203.11,188.83 L203.63,188.75 L204.14,188.66 L204.66,188.57 L205.17,188.48 L205.69,188.40 L206.21,188.31 L206.72,188.22 L207.24,188.14 L207.75,188.05 L208.27,187.97 L208.79,187.88 L209.30,187.80 L209.82,187.71 L210.33,187.63 L210.85,187.55 L211.37,187.46 L211.88,187.38 L212.40,187.30 L212.91,187.22 L213.43,187.13 L213.95,187.05 L214.46,186.97 L214.98,186.89 L215.49,186.81 L216.01,186.73 L216.53,186.65 L217.04,186.57 L217.56,186.49 L218.07,186.41 L218.59,186.33 L219.11,186.25 L219.62,186.17 L220.14,186.09 L220.65,186.02 L221.17,185.94 L221.69,185.86 L222.20,185.78 L222.72,185.71 L223.23,185.63 L223.75,185.55 L224.26,185.48 L224.78,185.40 L225.30,185.33 L225.81,185.25 L226.33,185.18 L226.84,185.10 L227.36,185.03 L227.88,184.95 L228.39,184.88 L228.91,184.80 L229.42,184.73 L229.94,184.66 L230.46,184.58 L230.97,184.51 L231.49,184.44 L232.00,184.37 L232.52,184.29 L233.04,184.22 L233.55,184.15 L234.07,184.08 L234.58,184.01 L235.10,183.94 L235.62,183.87 L236.13,183.80 L236.65,183.72 L237.16,183.65 L237.68,183.58 L238.20,183.52 L238.71,183.45 L239.23,183.38 L239.74,183.31 L240.26,183.24 L240.78,183.17 L241.29,183.10 L241.81,183.03 L242.32,182.97 L242.84,182.90 L243.36,182.83 L243.87,182.76 L244.39,182.70 L244.90,182.63 L245.42,182.56 L245.93,182.50 L246.45,182.43 L246.97,182.37 L247.48,182.30 L248.00,182.23 L248.51,182.17 L249.03,182.10 L249.55,182.04 L250.06,181.97 L250.58,181.91 L251.09,181.85 L251.61,181.78 L252.13,181.72 L252.64,181.65 L253.16,181.59 L253.67,181.53 L254.19,181.46 L254.71,181.40 L255.22,181.34 L255.74,181.27 L256.25,181.21 L256.77,181.15 L257.29,181.09 L257.80,181.03 L258.32,180.96 L258.83,180.90 L259.35,180.84 L259.87,180.78 L260.38,180.72 L260.90,180.66 L261.41,180.60 L261.93,180.54 L262.45,180.48 L262.96,180.42 L263.48,180.36 L263.99,180.30 L264.51,180.24 L265.03,180.18 L265.54,180.12 L266.06,180.06 L266.57,180.00 L267.09,179.94 L267.60,179.88 L268.12,179.83 L268.64,179.77 L269.15,179.71 L269.67,179.65 L270.18,179.59 L270.70,179.54 L271.22,179.48 L271.73,179.42 L272.25,179.36 L272.76,179.31 L273.28,179.25 L273.80,179.19 L274.31,179.14 L274.83,179.08 L275.34,179.03 L275.86,178.97 L276.38,178.91 L276.89,178.86 L277.41,178.80 L277.92,178.75 L278.44,178.69 L278.96,178.64 L279.47,178.58 L279.99,178.53 L280.50,178.47 L281.02,178.42 L281.54,178.36 L282.05,178.31 L282.57,178.26 L283.08,178.20 L283.60,178.15 L284.12,178.09 L284.63,178.04 L285.15,177.99 L285.66,177.93 L286.18,177.88 L286.70,177.83 L287.21,177.78 L287.73,177.72 L288.24,177.67 L288.76,177.62 L289.27,177.57 L289.79,177.51 L290.31,177.46 L290.82,177.41 L291.34,177.36 L291.85,177.31 L292.37,177.26 L292.89,177.20 L293.40,177.15 L293.92,177.10 L294.43,177.05 L294.95,177.00 L295.47,176.95 L295.98,176.90 L296.50,176.85 L297.01,176.80 L297.53,176.75 L298.05,176.70 L298.56,176.65 L299.08,176.60 L299.59,176.55 L300.11,176.50 L300.63,176.45 L301.14,176.40 L301.66,176.35 L302.17,176.30 L302.69,176.26 L303.21,176.21 L303.72,176.16 L304.24,176.11 L304.75,176.06 L305.27,176.01 L305.79,175.96 L306.30,175.92 L306.82,175.87 L307.33,175.82 L307.85,175.77 L308.37,175.73 L308.88,175.68 L309.40,175.63 L309.91,175.58 L310.43,175.54 L310.94,175.49 L311.46,175.44 L311.98,175.40 L312.49,175.35 L313.01,175.30 L313.52,175.26 L314.04,175.21 L314.56,175.16 L315.07,175.12 L315.59,175.07 L316.10,175.03 L316.62,174.98 L317.14,174.94 L317.65,174.89 L318.17,174.84 L318.68,174.80 L319.20,174.75" stroke="#000000" stroke-width="1.6" stroke-linecap="butt"/>
</g>
<rect x="51.0" y="26.5" width="273.5" height="273.0" fill="none" stroke="#999999" stroke-width="1"/>
<g fill="none"><path d="M56.50,299.5 v-4.2 M56.50,26.5 v4.2" stroke="#505050" stroke-width="1.0"/><path d="M66.50,299.5 v-3.2 M66.50,26.5 v3.2" stroke="#858585" stroke-width="0.9"/><path d="M77.50,299.5 v-3.2 M77.50,26.5 v3.2" stroke="#858585" stroke-width="0.9"/><path d="M87.50,299.5 v-3.2 M87.50,26.5 v3.2" stroke="#858585" stroke-width="0.9"/><path d="M98.50,299.5 v-3.2 M98.50,26.5 v3.2" stroke="#858585" stroke-width="0.9"/><path d="M108.90,299.5 v-4.2 M108.90,26.5 v4.2" stroke="#505050" stroke-width="1.0"/><path d="M119.50,299.5 v-3.2 M119.50,26.5 v3.2" stroke="#858585" stroke-width="0.9"/><path d="M129.50,299.5 v-3.2 M129.50,26.5 v3.2" stroke="#858585" stroke-width="0.9"/><path d="M140.50,299.5 v-3.2 M140.50,26.5 v3.2" stroke="#858585" stroke-width="0.9"/><path d="M150.50,299.5 v-3.2 M150.50,26.5 v3.2" stroke="#858585" stroke-width="0.9"/><path d="M161.30,299.5 v-4.2 M161.30,26.5 v4.2" stroke="#505050" stroke-width="1.0"/><path d="M171.50,299.5 v-3.2 M171.50,26.5 v3.2" stroke="#858585" stroke-width="0.9"/><path d="M182.50,299.5 v-3.2 M182.50,26.5 v3.2" stroke="#858585" stroke-width="0.9"/><path d="M192.50,299.5 v-3.2 M192.50,26.5 v3.2" stroke="#858585" stroke-width="0.9"/><path d="M203.50,299.5 v-3.2 M203.50,26.5 v3.2" stroke="#858585" stroke-width="0.9"/><path d="M213.70,299.5 v-4.2 M213.70,26.5 v4.2" stroke="#505050" stroke-width="1.0"/><path d="M224.50,299.5 v-3.2 M224.50,26.5 v3.2" stroke="#858585" stroke-width="0.9"/><path d="M234.50,299.5 v-3.2 M234.50,26.5 v3.2" stroke="#858585" stroke-width="0.9"/><path d="M245.50,299.5 v-3.2 M245.50,26.5 v3.2" stroke="#858585" stroke-width="0.9"/><path d="M255.50,299.5 v-3.2 M255.50,26.5 v3.2" stroke="#858585" stroke-width="0.9"/><path d="M266.10,299.5 v-4.2 M266.10,26.5 v4.2" stroke="#505050" stroke-width="1.0"/><path d="M276.50,299.5 v-3.2 M276.50,26.5 v3.2" stroke="#858585" stroke-width="0.9"/><path d="M287.50,299.5 v-3.2 M287.50,26.5 v3.2" stroke="#858585" stroke-width="0.9"/><path d="M297.50,299.5 v-3.2 M297.50,26.5 v3.2" stroke="#858585" stroke-width="0.9"/><path d="M308.50,299.5 v-3.2 M308.50,26.5 v3.2" stroke="#858585" stroke-width="0.9"/><path d="M318.50,299.5 v-4.2 M318.50,26.5 v4.2" stroke="#505050" stroke-width="1.0"/><path d="M51.0,297.55 h3.8 M324.5,297.55 h-3.8" stroke="#858585" stroke-width="0.8"/><path d="M51.0,294.91 h3.8 M324.5,294.91 h-3.8" stroke="#858585" stroke-width="0.8"/><path d="M51.0,292.58 h3.8 M324.5,292.58 h-3.8" stroke="#858585" stroke-width="0.8"/><path d="M51.0,290.50 h4.2 M324.5,290.50 h-4.2" stroke="#505050" stroke-width="1.0"/><path d="M51.0,276.80 h3.8 M324.5,276.80 h-3.8" stroke="#858585" stroke-width="0.8"/><path d="M51.0,268.79 h3.8 M324.5,268.79 h-3.8" stroke="#858585" stroke-width="0.8"/><path d="M51.0,263.11 h3.8 M324.5,263.11 h-3.8" stroke="#858585" stroke-width="0.8"/><path d="M51.0,258.70 h3.8 M324.5,258.70 h-3.8" stroke="#858585" stroke-width="0.8"/><path d="M51.0,255.09 h3.8 M324.5,255.09 h-3.8" stroke="#858585" stroke-width="0.8"/><path d="M51.0,252.05 h3.8 M324.5,252.05 h-3.8" stroke="#858585" stroke-width="0.8"/><path d="M51.0,249.41 h3.8 M324.5,249.41 h-3.8" stroke="#858585" stroke-width="0.8"/><path d="M51.0,247.08 h3.8 M324.5,247.08 h-3.8" stroke="#858585" stroke-width="0.8"/><path d="M51.0,245.00 h4.2 M324.5,245.00 h-4.2" stroke="#505050" stroke-width="1.0"/><path d="M51.0,231.30 h3.8 M324.5,231.30 h-3.8" stroke="#858585" stroke-width="0.8"/><path d="M51.0,223.29 h3.8 M324.5,223.29 h-3.8" stroke="#858585" stroke-width="0.8"/><path d="M51.0,217.61 h3.8 M324.5,217.61 h-3.8" stroke="#858585" stroke-width="0.8"/><path d="M51.0,213.20 h3.8 M324.5,213.20 h-3.8" stroke="#858585" stroke-width="0.8"/><path d="M51.0,209.59 h3.8 M324.5,209.59 h-3.8" stroke="#858585" stroke-width="0.8"/><path d="M51.0,206.55 h3.8 M324.5,206.55 h-3.8" stroke="#858585" stroke-width="0.8"/><path d="M51.0,203.91 h3.8 M324.5,203.91 h-3.8" stroke="#858585" stroke-width="0.8"/><path d="M51.0,201.58 h3.8 M324.5,201.58 h-3.8" stroke="#858585" stroke-width="0.8"/><path d="M51.0,199.50 h4.2 M324.5,199.50 h-4.2" stroke="#505050" stroke-width="1.0"/><path d="M51.0,185.80 h3.8 M324.5,185.80 h-3.8" stroke="#858585" stroke-width="0.8"/><path d="M51.0,177.79 h3.8 M324.5,177.79 h-3.8" stroke="#858585" stroke-width="0.8"/><path d="M51.0,172.11 h3.8 M324.5,172.11 h-3.8" stroke="#858585" stroke-width="0.8"/><path d="M51.0,167.70 h3.8 M324.5,167.70 h-3.8" stroke="#858585" stroke-width="0.8"/><path d="M51.0,164.09 h3.8 M324.5,164.09 h-3.8" stroke="#858585" stroke-width="0.8"/><path d="M51.0,161.05 h3.8 M324.5,161.05 h-3.8" stroke="#858585" stroke-width="0.8"/><path d="M51.0,158.41 h3.8 M324.5,158.41 h-3.8" stroke="#858585" stroke-width="0.8"/><path d="M51.0,156.08 h3.8 M324.5,156.08 h-3.8" stroke="#858585" stroke-width="0.8"/><path d="M51.0,154.00 h4.2 M324.5,154.00 h-4.2" stroke="#505050" stroke-width="1.0"/><path d="M51.0,140.30 h3.8 M324.5,140.30 h-3.8" stroke="#858585" stroke-width="0.8"/><path d="M51.0,132.29 h3.8 M324.5,132.29 h-3.8" stroke="#858585" stroke-width="0.8"/><path d="M51.0,126.61 h3.8 M324.5,126.61 h-3.8" stroke="#858585" stroke-width="0.8"/><path d="M51.0,122.20 h3.8 M324.5,122.20 h-3.8" stroke="#858585" stroke-width="0.8"/><path d="M51.0,118.59 h3.8 M324.5,118.59 h-3.8" stroke="#858585" stroke-width="0.8"/><path d="M51.0,115.55 h3.8 M324.5,115.55 h-3.8" stroke="#858585" stroke-width="0.8"/><path d="M51.0,112.91 h3.8 M324.5,112.91 h-3.8" stroke="#858585" stroke-width="0.8"/><path d="M51.0,110.58 h3.8 M324.5,110.58 h-3.8" stroke="#858585" stroke-width="0.8"/><path d="M51.0,108.50 h4.2 M324.5,108.50 h-4.2" stroke="#505050" stroke-width="1.0"/><path d="M51.0,94.80 h3.8 M324.5,94.80 h-3.8" stroke="#858585" stroke-width="0.8"/><path d="M51.0,86.79 h3.8 M324.5,86.79 h-3.8" stroke="#858585" stroke-width="0.8"/><path d="M51.0,81.11 h3.8 M324.5,81.11 h-3.8" stroke="#858585" stroke-width="0.8"/><path d="M51.0,76.70 h3.8 M324.5,76.70 h-3.8" stroke="#858585" stroke-width="0.8"/><path d="M51.0,73.09 h3.8 M324.5,73.09 h-3.8" stroke="#858585" stroke-width="0.8"/><path d="M51.0,70.05 h3.8 M324.5,70.05 h-3.8" stroke="#858585" stroke-width="0.8"/><path d="M51.0,67.41 h3.8 M324.5,67.41 h-3.8" stroke="#858585" stroke-width="0.8"/><path d="M51.0,65.08 h3.8 M324.5,65.08 h-3.8" stroke="#858585" stroke-width="0.8"/><path d="M51.0,63.00 h4.2 M324.5,63.00 h-4.2" stroke="#505050" stroke-width="1.0"/><path d="M51.0,49.30 h3.8 M324.5,49.30 h-3.8" stroke="#858585" stroke-width="0.8"/><path d="M51.0,41.29 h3.8 M324.5,41.29 h-3.8" stroke="#858585" stroke-width="0.8"/><path d="M51.0,35.61 h3.8 M324.5,35.61 h-3.8" stroke="#858585" stroke-width="0.8"/><path d="M51.0,31.20 h3.8 M324.5,31.20 h-3.8" stroke="#858585" stroke-width="0.8"/><path d="M51.0,27.59 h3.8 M324.5,27.59 h-3.8" stroke="#858585" stroke-width="0.8"/></g>
<g font-family="'Liberation Serif', serif" font-size="12px" fill="#000" style="filter:grayscale(1)">
<text x="163.85" y="11.90" font-size="13.5px">t</text>
<text x="167.41" y="11.90" font-size="13.5px">a</text>
<text x="175.27" y="11.90" font-size="13.5px">n</text>
<text x="182.96" y="11.90" font-style="italic" font-size="13.5px">β</text>
<text x="190.24" y="11.90" font-size="13.5px">=</text>
<text x="198.24" y="11.90" font-size="13.5px">1</text>
<text x="204.18" y="11.90" font-size="13.5px">0</text>
<text x="53.42" y="314.00" font-size="13.5px">0</text>
<text x="101.01" y="314.00" font-size="13.5px">1</text>
<text x="109.06" y="314.00" font-size="13.5px">0</text>
<text x="154.01" y="314.00" font-size="13.5px">2</text>
<text x="161.46" y="314.00" font-size="13.5px">0</text>
<text x="206.35" y="314.00" font-size="13.5px">3</text>
<text x="213.86" y="314.00" font-size="13.5px">0</text>
<text x="259.14" y="314.00" font-size="13.5px">4</text>
<text x="266.26" y="314.00" font-size="13.5px">0</text>
<text x="311.02" y="314.00" font-size="13.5px">5</text>
<text x="318.66" y="314.00" font-size="13.5px">0</text>
<text x="19.81" y="67.40" font-size="13.5px">1</text>
<text x="27.46" y="67.40" font-size="13.5px">0</text>
<text x="34.40" y="62.60" font-size="8px">−</text>
<text x="39.18" y="62.60" font-size="8px">4</text>
<text x="43.43" y="62.60" font-size="8px">7</text>
<text x="19.81" y="112.90" font-size="13.5px">1</text>
<text x="27.46" y="112.90" font-size="13.5px">0</text>
<text x="34.40" y="108.10" font-size="8px">−</text>
<text x="39.18" y="108.10" font-size="8px">4</text>
<text x="43.50" y="108.10" font-size="8px">8</text>
<text x="19.81" y="158.40" font-size="13.5px">1</text>
<text x="27.46" y="158.40" font-size="13.5px">0</text>
<text x="34.40" y="153.60" font-size="8px">−</text>
<text x="39.18" y="153.60" font-size="8px">4</text>
<text x="43.53" y="153.60" font-size="8px">9</text>
<text x="19.81" y="203.90" font-size="13.5px">1</text>
<text x="27.46" y="203.90" font-size="13.5px">0</text>
<text x="34.40" y="199.10" font-size="8px">−</text>
<text x="39.12" y="199.10" font-size="8px">5</text>
<text x="43.50" y="199.10" font-size="8px">0</text>
<text x="19.81" y="249.40" font-size="13.5px">1</text>
<text x="27.46" y="249.40" font-size="13.5px">0</text>
<text x="34.40" y="244.60" font-size="8px">−</text>
<text x="39.12" y="244.60" font-size="8px">5</text>
<text x="43.68" y="244.60" font-size="8px">1</text>
<text x="19.81" y="294.90" font-size="13.5px">1</text>
<text x="27.46" y="294.90" font-size="13.5px">0</text>
<text x="34.40" y="290.10" font-size="8px">−</text>
<text x="39.12" y="290.10" font-size="8px">5</text>
<text x="43.64" y="290.10" font-size="8px">2</text>
<text x="164.34" y="333.50" font-style="italic">E</text>
<text x="172.38" y="335.10" font-style="italic" font-size="9px">ν</text>
<text x="180.11" y="333.50">[</text>
<text x="183.51" y="333.50">G</text>
<text x="192.03" y="333.50">e</text>
<text x="198.87" y="333.50">V</text>
<text x="207.29" y="333.50">]</text>
<g transform="translate(12,210.8) rotate(-90)">
<text x="-0.36" y="0.00" font-style="italic">σ</text>
<text x="6.87" y="-1.20">(</text>
<text x="13.34" y="0.00" font-style="italic">ν</text>
<text x="18.76" y="0.00" font-style="italic">P</text>
<text x="36.36" y="0.00" font-style="italic">l</text>
<text x="42.20" y="-5.80" font-size="8px">+</text>
<text x="48.50" y="0.00" font-style="italic">X</text>
<text x="57.61" y="-1.20">)</text>
<text x="64.41" y="-0.60">[</text>
<text x="67.74" y="0.00">c</text>
<text x="75.05" y="0.00">m</text>
<text x="86.87" y="-5.60" font-size="7.5px">2</text>
<text x="91.97" y="-0.60">]</text>
<path d="M27.3,-3.4 H35.4 M32.6,-5.6 Q33.6,-4.0 35.6,-3.4 Q33.6,-2.8 32.6,-1.2" fill="none" stroke="#000" stroke-width="0.8"/>
</g>
</g>
</svg>
</body></html>
